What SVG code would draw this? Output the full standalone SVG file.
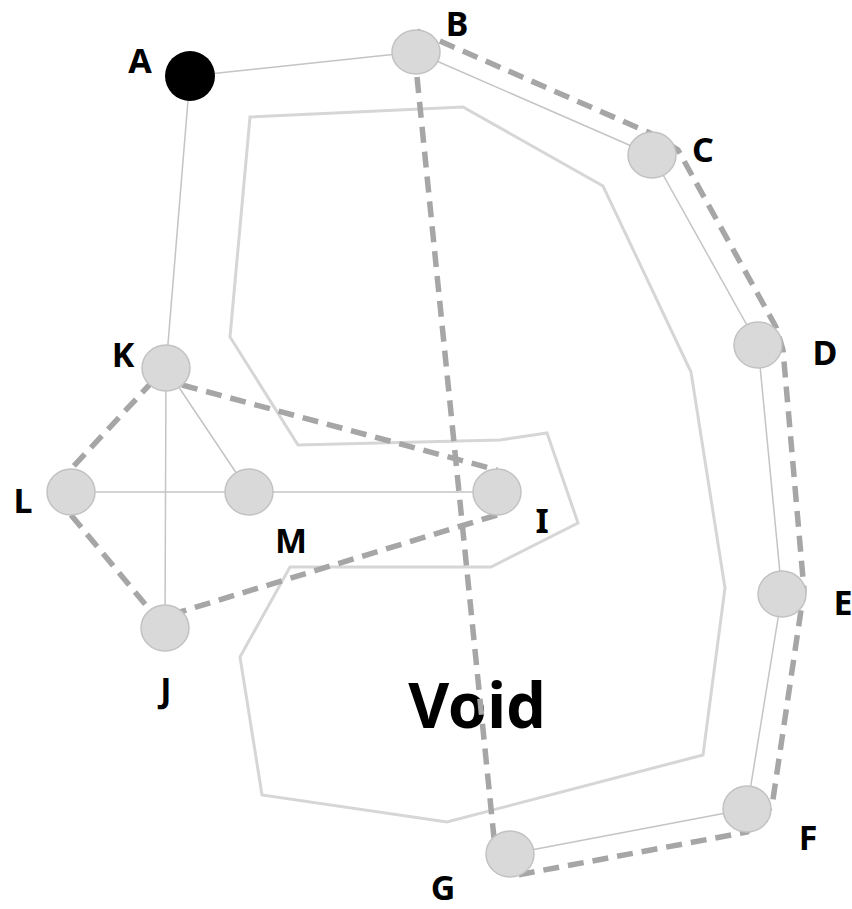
<svg xmlns="http://www.w3.org/2000/svg" width="852" height="909" viewBox="0 0 852 909">
  <style>
    .region { fill: none; stroke: #d6d6d6; stroke-width: 3; stroke-linejoin: miter; }
    .edge { stroke: #c4c4c4; stroke-width: 1.5; fill: none; }
    .route { stroke: #a6a6a6; stroke-width: 5.5; stroke-dasharray: 16 9; fill: none; }
    .node { fill: #d9d9d9; stroke: #c2c2c2; stroke-width: 1.5; }
    .start { fill: #000000; }
    .label { font-family: "Noto Sans", "Open Sans", "DejaVu Sans", sans-serif; font-weight: bold; font-size: 34px; fill: #000000; text-anchor: middle; }
    .void { font-family: "Noto Sans", "Open Sans", "DejaVu Sans", sans-serif; font-weight: bold; font-size: 63px; fill: #000000; text-anchor: middle; }
  </style>

  <!-- void region outline -->
  <polygon class="region" points="250,117 463,107 603,186 691,372 725,588 703,755 447,822 262,795 240,657 290,567 491,567 578,523 547,433 500,440 298,445 230,337"/>

  <text class="void" x="477" y="728">Void</text>

  <g id="connectors">
    <!-- graph edges -->
    <line class="edge" x1="190" y1="76" x2="416" y2="52"/>
    <line class="edge" x1="190" y1="76" x2="166" y2="368"/>
    <line class="edge" x1="416" y1="52" x2="652" y2="155"/>
    <line class="edge" x1="652" y1="155" x2="758" y2="345"/>
    <line class="edge" x1="758" y1="345" x2="782" y2="594"/>
    <line class="edge" x1="782" y1="594" x2="747" y2="809"/>
    <line class="edge" x1="747" y1="809" x2="510" y2="854"/>
    <line class="edge" x1="166" y1="368" x2="249" y2="492"/>
    <line class="edge" x1="166" y1="368" x2="165" y2="628"/>
    <line class="edge" x1="71" y1="492" x2="497" y2="492"/>

    <!-- dashed routes -->
    <polyline class="route" points="417,31 650,133 678,150 776,327 783,350 804,590 772,806 747,832 512,876"/>
    <line class="route" x1="417" y1="77" x2="494" y2="838"/>
    <line class="route" x1="182" y1="385" x2="497" y2="470"/>
    <line class="route" x1="497" y1="515" x2="180" y2="612"/>
    <line class="route" x1="153" y1="381" x2="70" y2="470"/>
    <line class="route" x1="71" y1="515" x2="150" y2="610"/>
  </g>

  <g id="node-A"><circle class="start" cx="190" cy="76" r="25"/><text class="label" x="140" y="73">A</text></g>
  <g id="node-B"><ellipse class="node" cx="416" cy="52" rx="24" ry="22"/><text class="label" x="457" y="36">B</text></g>
  <g id="node-C"><ellipse class="node" cx="652" cy="155" rx="24" ry="23"/><text class="label" x="703" y="162">C</text></g>
  <g id="node-D"><ellipse class="node" cx="758" cy="345" rx="24" ry="23"/><text class="label" x="825" y="365">D</text></g>
  <g id="node-E"><ellipse class="node" cx="782" cy="594" rx="24" ry="23"/><text class="label" x="843" y="615">E</text></g>
  <g id="node-F"><ellipse class="node" cx="747" cy="809" rx="24" ry="23"/><text class="label" x="808" y="850">F</text></g>
  <g id="node-G"><ellipse class="node" cx="510" cy="854" rx="24" ry="23"/><text class="label" x="443" y="900">G</text></g>
  <g id="node-I"><ellipse class="node" cx="497" cy="492" rx="24" ry="23"/><text class="label" x="542" y="533">I</text></g>
  <g id="node-J"><ellipse class="node" cx="165" cy="628" rx="24" ry="23"/><text class="label" x="166" y="702">J</text></g>
  <g id="node-K"><ellipse class="node" cx="166" cy="368" rx="24" ry="23"/><text class="label" x="123" y="367">K</text></g>
  <g id="node-L"><ellipse class="node" cx="71" cy="492" rx="24" ry="23"/><text class="label" x="23" y="513">L</text></g>
  <g id="node-M"><ellipse class="node" cx="249" cy="492" rx="24" ry="23"/><text class="label" x="291" y="553">M</text></g>
</svg>
